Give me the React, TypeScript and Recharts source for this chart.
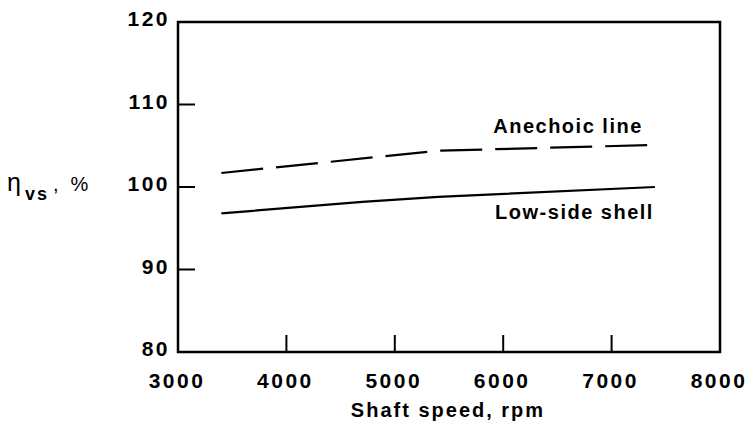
import React from 'react';
import { LineChart, Line, XAxis, YAxis, ReferenceArea, ReferenceDot, Label } from 'recharts';

// Shaft speed (rpm) and efficiency (%)
const anechoicSpeed = [3400, 5400, 7400];
const anechoicEff = [101.7, 104.4, 105.1];
const shellSpeed = [3400, 4700, 5400, 7400];
const shellEff = [96.8, 98.2, 98.8, 100.0];

const xTicks = [3000, 4000, 5000, 6000, 7000, 8000];
const yTicks = [80, 90, 100, 110, 120];

const seriesLabels = [
  { text: 'Anechoic line', x: 6598, y: 107.4 },
  { text: 'Low-side shell', x: 6658, y: 97.0 },
];

const anechoicData = anechoicSpeed.map((x, i) => ({ x, y: anechoicEff[i] }));
const shellData = shellSpeed.map((x, i) => ({ x, y: shellEff[i] }));

const FONT = '"Liberation Sans", Arial, Helvetica, sans-serif';

const YTick = (props: any) => {
  const { x, y, payload } = props;
  const v = payload.value;
  const showLine = v !== 80 && v !== 120;
  return (
    <g>
      {showLine && <line x1={x} x2={x + 17} y1={y} y2={y} stroke="#000" strokeWidth={2} />}
      <text x={x - 8} y={y + 4} textAnchor="end" fontFamily={FONT} fontWeight="bold" fontSize={21} letterSpacing={2.5} fill="#000">
        {v}
      </text>
    </g>
  );
};

const XTick = (props: any) => {
  const { x, y, payload } = props;
  const v = payload.value;
  const showLine = v !== 3000 && v !== 8000;
  return (
    <g>
      {showLine && <line x1={x} x2={x} y1={y} y2={y - 17} stroke="#000" strokeWidth={2} />}
      <text x={x - 1} y={y + 36} textAnchor="middle" fontFamily={FONT} fontWeight="bold" fontSize={21} letterSpacing={2.5} fill="#000">
        {v}
      </text>
    </g>
  );
};

const YTitle = (props: any) => {
  const vb = props.viewBox || { x: 0, y: 22, width: 178, height: 330 };
  const cy = vb.y + vb.height / 2;
  return (
    <text x={vb.x + 7} y={cy + 4} fontFamily={FONT} fill="#000">
      <tspan fontSize={25}>η</tspan>
      <tspan dx={4} dy={9} fontSize={18} fontWeight="bold" letterSpacing={2}>vs</tspan>
      <tspan dx={4} dy={-9} fontSize={20}>,</tspan>
      <tspan dx={12} fontSize={20}>%</tspan>
    </text>
  );
};

const XTitle = (props: any) => {
  const vb = props.viewBox || { x: 178, y: 352, width: 542, height: 70 };
  return (
    <text x={vb.x + 270} y={vb.y + 65} textAnchor="middle" fontFamily={FONT} fontWeight="bold" fontSize={20} letterSpacing={2} fill="#000">
      Shaft speed, rpm
    </text>
  );
};

const makeTextShape = (text: string) => (p: any) => (
  <text x={p.cx} y={p.cy + 7} textAnchor="middle" fontFamily={FONT} fontWeight="bold" fontSize={20} letterSpacing={1.5} fill="#000">
    {text}
  </text>
);

export default function App() {
  return (
    <div style={{ position: 'absolute', left: 0, top: 0, background: '#fff' }}>
      <LineChart width={748} height={422} margin={{ top: 22, right: 28, left: 0, bottom: 0 }}>
        <XAxis
          type="number"
          dataKey="x"
          domain={[3000, 8000]}
          ticks={xTicks}
          allowDataOverflow
          axisLine={false}
          tickLine={false}
          tickSize={0}
          tickMargin={0}
          height={70}
          tick={<XTick />}
          interval={0}
        >
          <Label content={<XTitle />} />
        </XAxis>
        <YAxis
          type="number"
          dataKey="y"
          domain={[80, 120]}
          ticks={yTicks}
          allowDataOverflow
          axisLine={false}
          tickLine={false}
          tickSize={0}
          tickMargin={0}
          width={178}
          tick={<YTick />}
          interval={0}
        >
          <Label content={<YTitle />} />
        </YAxis>
        <ReferenceArea x1={3000} x2={8000} y1={80} y2={120} fill="none" fillOpacity={0} stroke="#000" strokeWidth={2.5} />
        <Line
          data={anechoicData}
          dataKey="y"
          type="linear"
          stroke="#000"
          strokeWidth={2.2}
          strokeDasharray="42 13"
          dot={false}
          activeDot={false}
          isAnimationActive={false}
        />
        <Line
          data={shellData}
          dataKey="y"
          type="linear"
          stroke="#000"
          strokeWidth={2.2}
          dot={false}
          activeDot={false}
          isAnimationActive={false}
        />
        {seriesLabels.map((l) => (
          <ReferenceDot key={l.text} x={l.x} y={l.y} r={0} shape={makeTextShape(l.text)} />
        ))}
      </LineChart>
    </div>
  );
}
